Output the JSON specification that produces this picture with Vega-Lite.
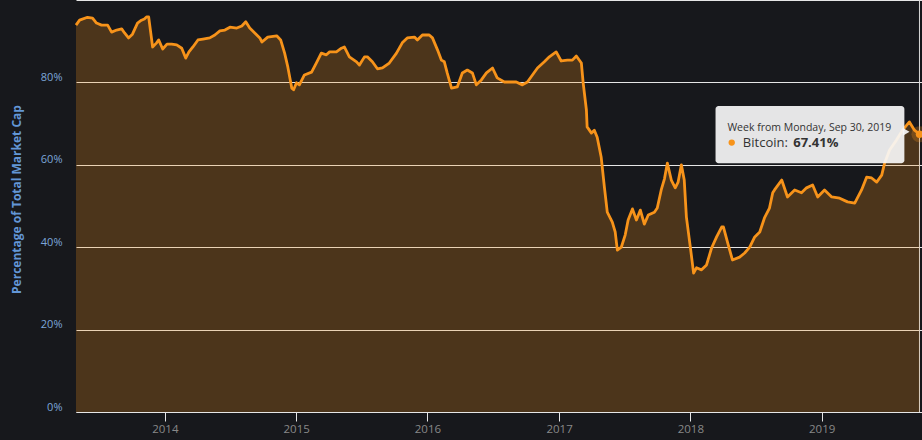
{
  "$schema": "https://vega.github.io/schema/vega-lite/v6.json",
  "width": 846,
  "height": 412,
  "autosize": {"type": "none"},
  "padding": {"left": 76, "top": 0, "right": 0, "bottom": 28},
  "config": {
    "background": "#17181c",
    "view": {"stroke": null},
    "font": "Open Sans"
  },
  "datasets": {
    "btc": [
      {"date": "2013-04-29", "value": 93.9}, {"date": "2013-05-09", "value": 95.1},
      {"date": "2013-05-31", "value": 95.8}, {"date": "2013-06-14", "value": 95.6},
      {"date": "2013-06-25", "value": 94.4}, {"date": "2013-07-09", "value": 93.9},
      {"date": "2013-07-26", "value": 93.9}, {"date": "2013-08-06", "value": 92.2},
      {"date": "2013-08-20", "value": 92.7}, {"date": "2013-09-03", "value": 93.0},
      {"date": "2013-09-11", "value": 92.0}, {"date": "2013-09-22", "value": 90.8},
      {"date": "2013-10-03", "value": 91.7}, {"date": "2013-10-17", "value": 94.4},
      {"date": "2013-10-28", "value": 95.1}, {"date": "2013-11-05", "value": 95.4},
      {"date": "2013-11-11", "value": 95.9}, {"date": "2013-11-17", "value": 95.9},
      {"date": "2013-11-28", "value": 88.6}, {"date": "2013-12-09", "value": 89.6},
      {"date": "2013-12-15", "value": 90.3}, {"date": "2013-12-26", "value": 88.1},
      {"date": "2014-01-07", "value": 89.3}, {"date": "2014-01-20", "value": 89.3},
      {"date": "2014-02-03", "value": 89.1}, {"date": "2014-02-17", "value": 88.3},
      {"date": "2014-02-28", "value": 85.9}, {"date": "2014-03-09", "value": 87.4},
      {"date": "2014-03-20", "value": 88.6}, {"date": "2014-04-03", "value": 90.3},
      {"date": "2014-04-17", "value": 90.5}, {"date": "2014-05-06", "value": 90.8},
      {"date": "2014-05-20", "value": 91.5}, {"date": "2014-06-03", "value": 92.5},
      {"date": "2014-06-17", "value": 92.7}, {"date": "2014-07-01", "value": 93.4},
      {"date": "2014-07-20", "value": 93.2}, {"date": "2014-08-03", "value": 93.7},
      {"date": "2014-08-14", "value": 94.7}, {"date": "2014-08-25", "value": 93.2},
      {"date": "2014-09-08", "value": 92.0}, {"date": "2014-09-22", "value": 90.8},
      {"date": "2014-09-28", "value": 89.8}, {"date": "2014-10-14", "value": 91.0},
      {"date": "2014-11-08", "value": 91.3}, {"date": "2014-11-19", "value": 90.3},
      {"date": "2014-11-30", "value": 87.1}, {"date": "2014-12-09", "value": 83.7},
      {"date": "2014-12-20", "value": 78.6}, {"date": "2014-12-25", "value": 78.2},
      {"date": "2015-01-02", "value": 79.9}, {"date": "2015-01-10", "value": 79.4},
      {"date": "2015-01-24", "value": 81.8}, {"date": "2015-02-13", "value": 82.5},
      {"date": "2015-02-26", "value": 84.7}, {"date": "2015-03-12", "value": 87.1},
      {"date": "2015-03-26", "value": 86.7}, {"date": "2015-04-04", "value": 87.4},
      {"date": "2015-04-23", "value": 87.4}, {"date": "2015-05-07", "value": 88.3},
      {"date": "2015-05-15", "value": 88.6}, {"date": "2015-05-29", "value": 86.2},
      {"date": "2015-06-18", "value": 85.0}, {"date": "2015-06-26", "value": 84.2},
      {"date": "2015-07-10", "value": 86.2}, {"date": "2015-07-18", "value": 86.2},
      {"date": "2015-08-01", "value": 85.0}, {"date": "2015-08-15", "value": 83.3},
      {"date": "2015-08-29", "value": 83.5}, {"date": "2015-09-17", "value": 84.7},
      {"date": "2015-10-07", "value": 87.1}, {"date": "2015-10-23", "value": 89.6},
      {"date": "2015-11-06", "value": 90.8}, {"date": "2015-11-26", "value": 91.0},
      {"date": "2015-12-04", "value": 90.3}, {"date": "2015-12-18", "value": 91.5},
      {"date": "2016-01-06", "value": 91.5}, {"date": "2016-01-15", "value": 90.8},
      {"date": "2016-01-29", "value": 87.9}, {"date": "2016-02-09", "value": 85.4},
      {"date": "2016-02-17", "value": 85.0}, {"date": "2016-02-25", "value": 82.3},
      {"date": "2016-03-08", "value": 78.6}, {"date": "2016-03-24", "value": 78.9},
      {"date": "2016-04-07", "value": 82.3}, {"date": "2016-04-21", "value": 83.0},
      {"date": "2016-05-05", "value": 82.3}, {"date": "2016-05-16", "value": 79.4},
      {"date": "2016-05-30", "value": 80.6}, {"date": "2016-06-13", "value": 82.3},
      {"date": "2016-06-30", "value": 83.5}, {"date": "2016-07-13", "value": 81.1},
      {"date": "2016-08-02", "value": 80.1}, {"date": "2016-08-21", "value": 80.1},
      {"date": "2016-09-04", "value": 80.1}, {"date": "2016-09-21", "value": 79.4},
      {"date": "2016-10-05", "value": 80.1}, {"date": "2016-10-19", "value": 81.8},
      {"date": "2016-11-02", "value": 83.5}, {"date": "2016-11-21", "value": 85.0},
      {"date": "2016-12-05", "value": 86.2}, {"date": "2016-12-24", "value": 87.4},
      {"date": "2017-01-07", "value": 85.2}, {"date": "2017-01-24", "value": 85.4},
      {"date": "2017-02-07", "value": 85.4}, {"date": "2017-02-18", "value": 86.4},
      {"date": "2017-03-04", "value": 84.7}, {"date": "2017-03-09", "value": 79.9},
      {"date": "2017-03-18", "value": 73.3}, {"date": "2017-03-20", "value": 69.2},
      {"date": "2017-04-01", "value": 67.7}, {"date": "2017-04-09", "value": 68.4},
      {"date": "2017-04-17", "value": 66.7}, {"date": "2017-04-28", "value": 61.9},
      {"date": "2017-05-07", "value": 54.6}, {"date": "2017-05-15", "value": 48.5},
      {"date": "2017-05-29", "value": 46.1}, {"date": "2017-06-06", "value": 43.7},
      {"date": "2017-06-12", "value": 39.3}, {"date": "2017-06-23", "value": 40.0},
      {"date": "2017-07-04", "value": 43.0}, {"date": "2017-07-12", "value": 46.6},
      {"date": "2017-07-24", "value": 49.3}, {"date": "2017-08-04", "value": 46.6},
      {"date": "2017-08-15", "value": 49.0}, {"date": "2017-08-26", "value": 45.6},
      {"date": "2017-09-06", "value": 47.8}, {"date": "2017-09-23", "value": 48.5},
      {"date": "2017-10-01", "value": 49.5}, {"date": "2017-10-12", "value": 53.9},
      {"date": "2017-10-21", "value": 56.6}, {"date": "2017-10-29", "value": 60.4},
      {"date": "2017-11-09", "value": 56.3}, {"date": "2017-11-20", "value": 54.4},
      {"date": "2017-11-28", "value": 55.8}, {"date": "2017-12-07", "value": 60.0},
      {"date": "2017-12-15", "value": 56.3}, {"date": "2017-12-21", "value": 47.3},
      {"date": "2018-01-02", "value": 39.3}, {"date": "2018-01-10", "value": 33.7},
      {"date": "2018-01-18", "value": 35.0}, {"date": "2018-02-01", "value": 34.5},
      {"date": "2018-02-15", "value": 35.7}, {"date": "2018-03-01", "value": 39.8},
      {"date": "2018-03-15", "value": 42.5}, {"date": "2018-03-29", "value": 44.9},
      {"date": "2018-04-03", "value": 44.9}, {"date": "2018-04-15", "value": 41.0},
      {"date": "2018-04-28", "value": 36.9}, {"date": "2018-05-18", "value": 37.6},
      {"date": "2018-06-01", "value": 38.6}, {"date": "2018-06-15", "value": 40.0},
      {"date": "2018-06-29", "value": 42.5}, {"date": "2018-07-13", "value": 43.7},
      {"date": "2018-07-26", "value": 47.1}, {"date": "2018-08-09", "value": 49.5},
      {"date": "2018-08-18", "value": 53.2}, {"date": "2018-08-23", "value": 53.9},
      {"date": "2018-09-12", "value": 56.3}, {"date": "2018-09-28", "value": 52.2},
      {"date": "2018-10-18", "value": 53.9}, {"date": "2018-11-06", "value": 53.2},
      {"date": "2018-11-20", "value": 54.4}, {"date": "2018-12-07", "value": 55.1},
      {"date": "2018-12-21", "value": 52.2}, {"date": "2019-01-09", "value": 53.9},
      {"date": "2019-01-29", "value": 52.2}, {"date": "2019-02-20", "value": 51.9},
      {"date": "2019-03-14", "value": 51.0}, {"date": "2019-04-03", "value": 50.7},
      {"date": "2019-04-22", "value": 53.9}, {"date": "2019-05-06", "value": 57.0},
      {"date": "2019-05-20", "value": 56.8}, {"date": "2019-06-03", "value": 55.8},
      {"date": "2019-06-17", "value": 57.5}, {"date": "2019-06-25", "value": 60.4},
      {"date": "2019-07-09", "value": 63.6}, {"date": "2019-07-28", "value": 66.0},
      {"date": "2019-08-14", "value": 68.4}, {"date": "2019-09-02", "value": 70.4},
      {"date": "2019-09-16", "value": 68.4}, {"date": "2019-09-30", "value": 67.41}
    ],
    "hover": [
      {"date": "2019-09-30", "value": 67.41}
    ]
  },
  "encoding": {
    "x": {
      "field": "date",
      "type": "temporal",
      "scale": {
        "type": "utc",
        "domain": [
          {"year": 2013, "month": 4, "date": 29, "utc": true},
          {"year": 2019, "month": 10, "date": 7, "utc": true}
        ]
      },
      "axis": {
        "title": null,
        "grid": false,
        "values": [
          {"year": 2014, "month": 1, "date": 1, "utc": true},
          {"year": 2015, "month": 1, "date": 1, "utc": true},
          {"year": 2016, "month": 1, "date": 1, "utc": true},
          {"year": 2017, "month": 1, "date": 1, "utc": true},
          {"year": 2018, "month": 1, "date": 1, "utc": true},
          {"year": 2019, "month": 1, "date": 1, "utc": true}
        ],
        "format": "%Y",
        "domainColor": "#e6e6e6",
        "tickColor": "#e6e6e6",
        "tickSize": 9,
        "labelPadding": 2,
        "labelColor": "#888888",
        "labelFontSize": 11.5,
        "labelFlush": false
      }
    },
    "y": {
      "field": "value",
      "type": "quantitative",
      "scale": {"domain": [0, 100], "nice": false},
      "axis": {
        "values": [0, 20, 40, 60, 80, 100],
        "labelExpr": "datum.value == 100 ? '' : datum.value + '%'",
        "title": "Percentage of Total Market Cap",
        "grid": true,
        "gridColor": "#e6e6e6",
        "gridOpacity": 1,
        "domain": false,
        "ticks": false,
        "tickSize": 0,
        "labelPadding": 14,
        "labelColor": "#7ca6d9",
        "labelFontSize": 11,
        "labelBaseline": "alphabetic",
        "labelOffset": -2,
        "titleColor": "#6396d6",
        "titleFontSize": 12,
        "titleFontWeight": "bold",
        "titleAngle": -90,
        "titleX": -60,
        "titleY": 199,
        "titleAlign": "center",
        "titleBaseline": "middle"
      }
    }
  },
  "layer": [
    {
      "data": {"name": "hover"},
      "mark": {"type": "rule", "color": "#d9d9d9", "strokeWidth": 1},
      "encoding": {"y": {"datum": 0}, "y2": {"datum": 100}}
    },
    {
      "data": {"name": "btc"},
      "mark": {"type": "area", "color": "#f7931a", "opacity": 0.24}
    },
    {
      "data": {"name": "btc"},
      "mark": {"type": "line", "color": "#f7931a", "strokeWidth": 2.8, "strokeJoin": "round"}
    },
    {
      "data": {"name": "hover"},
      "mark": {"type": "point", "filled": true, "color": "#f7931a", "opacity": 0.25, "size": 260}
    },
    {
      "data": {"name": "hover"},
      "mark": {"type": "point", "filled": true, "color": "#f7931a", "opacity": 1, "size": 55}
    },
    {
      "data": {"values": [{"date": "2018-03-12", "date2": "2019-08-19", "value": 74.3, "value2": 60.4}]},
      "mark": {"type": "rect", "color": "#f7f7f7", "opacity": 0.92, "cornerRadius": 3},
      "encoding": {
        "x2": {"field": "date2"},
        "y2": {"field": "value2"}
      }
    },
    {
      "data": {"values": [{"date": "2019-08-24", "value": 68.0}]},
      "mark": {"type": "point", "shape": "triangle-right", "filled": true, "color": "#f7f7f7", "opacity": 0.92, "size": 60}
    },
    {
      "data": {"values": [{"date": "2018-04-14", "value": 68.3, "label": "Week from Monday, Sep 30, 2019"}]},
      "mark": {"type": "text", "align": "left", "baseline": "alphabetic", "fontSize": 10.5, "color": "#333333"},
      "encoding": {"text": {"field": "label"}}
    },
    {
      "data": {"values": [{"date": "2018-04-26", "value": 65.4}]},
      "mark": {"type": "point", "filled": true, "color": "#f7931a", "opacity": 1, "size": 40}
    },
    {
      "data": {"values": [{"date": "2018-05-27", "value": 64.4, "label": "Bitcoin:"}]},
      "mark": {"type": "text", "align": "left", "baseline": "alphabetic", "fontSize": 13, "color": "#333333"},
      "encoding": {"text": {"field": "label"}}
    },
    {
      "data": {"values": [{"date": "2018-10-14", "value": 64.4, "label": "67.41%"}]},
      "mark": {"type": "text", "align": "left", "baseline": "alphabetic", "fontSize": 13, "fontWeight": "bold", "color": "#333333"},
      "encoding": {"text": {"field": "label"}}
    }
  ]
}
